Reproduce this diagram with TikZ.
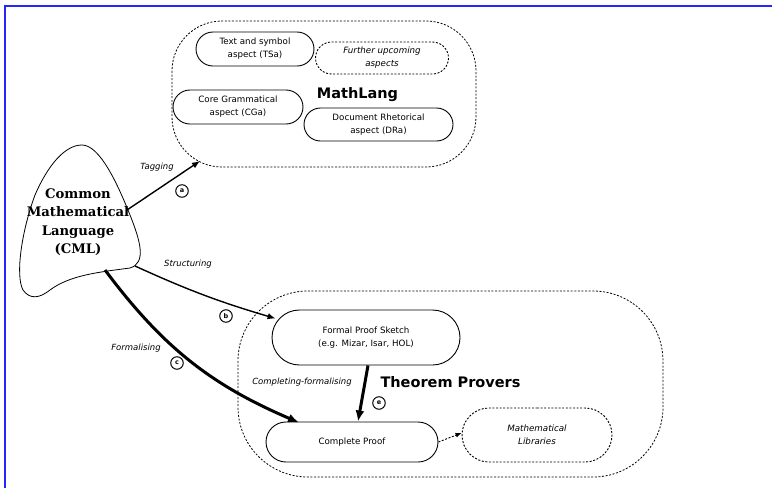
\documentclass[tikz,border=0pt]{standalone}
\usepackage{fontspec}
\setmainfont{DejaVu Sans}
\newfontfamily\cmlfont{DejaVu Serif}
\usetikzlibrary{shapes.misc,arrows.meta,calc}
\begin{document}
\begin{tikzpicture}[x=1pt,y=-1pt,
  every node/.style={font=\fontsize{8.7}{13}\selectfont, align=center},
  pill/.style={rounded rectangle, draw, line width=0.9pt, inner sep=0pt},
  dotpill/.style={rounded rectangle, draw, line width=0.9pt, inner sep=0pt,
    dash pattern=on 2pt off 1.6pt, font=\fontsize{8.7}{13}\selectfont\itshape},
  region/.style={draw, line width=0.8pt, dash pattern=on 2pt off 1.6pt},
  title/.style={font=\fontsize{14.5}{16}\selectfont\bfseries},
  edgelabel/.style={font=\fontsize{8.5}{10}\selectfont\itshape},
  tag/.style={circle, draw, line width=1pt, inner sep=0pt, minimum size=12.5pt,
    font=\fontsize{6.5}{6.5}\selectfont\bfseries},
  flow/.style={line width=1.4pt, -{Latex[length=8pt,width=6.5pt]}},
  heavy/.style={line width=3pt, -{Latex[length=11pt,width=9pt]}}
]
\useasboundingbox (0,0) rectangle (772,488);
% frame lines
\draw[blue!85, line width=1.3pt] (5,488) -- (5,6) -- (772,6);

% MathLang region
\draw[region, rounded corners=50pt] (172,21) rectangle (476,167);
\node[title] (mathlang) at (357.5,95) {MathLang};
\node[pill, minimum width=118pt, minimum height=34pt] (tsa) at (255,49)
  {Text and symbol\\aspect (TSa)};
\node[dotpill, minimum width=133pt, minimum height=32pt] (further) at (382,58)
  {Further upcoming\\aspects};
\node[pill, minimum width=130pt, minimum height=34pt] (cga) at (238,107)
  {Core Grammatical\\aspect (CGa)};
\node[pill, minimum width=149pt, minimum height=33pt] (dra) at (378.5,124.5)
  {Document Rhetorical\\aspect (DRa)};

% Theorem provers region
\draw[region, rounded corners=70pt] (238,291) rectangle (663,477);
\node[title] (tp) at (450.5,382) {Theorem Provers};
\node[pill, minimum width=188pt, minimum height=55pt] (fps) at (366,337.5)
  {Formal Proof Sketch\\(e.g. Mizar, Isar, HOL)};
\node[pill, minimum width=172pt, minimum height=40pt] (cp) at (352,442)
  {Complete Proof};
\node[dotpill, minimum width=150pt, minimum height=54pt] (ml) at (537,435)
  {Mathematical\\Libraries};

% Common Mathematical Language blob
\draw[line width=0.8pt] (82,145) .. controls (100,145) and (118,185) .. (130,215)
  .. controls (140,240) and (147,263) .. (130,268)
  .. controls (100,272) and (70,275) .. (50,290)
  .. controls (40,298) and (30,300) .. (23,290)
  .. controls (15,275) and (22,230) .. (35,195)
  .. controls (48,165) and (65,145) .. (82,145);
\node[font=\fontsize{13.2}{18.5}\selectfont\cmlfont\bfseries] (cml) at (78,222)
  {Common\\Mathematical\\Language\\(CML)};
\coordinate (cmlTag) at (127,210);
\coordinate (cmlStruct) at (135,266);
\coordinate (cmlForm) at (105,270);
\coordinate (mlIn) at (200,161);
\coordinate (fpsIn) at ($(fps.west)+(4,-19)$);
\coordinate (cpIn) at ($(cp.north)+(-53,1)$);
\coordinate (fpsOut) at ($(fps.south)+(2,0)$);
\coordinate (cpTop) at ($(cp.north)+(6,0)$);

% connectors
\draw[flow] (cmlTag) -- (mlIn);
\node[edgelabel] (ltag) at (157,167) {Tagging};
\node[tag] (ta) at (182,191) {a};

\draw[flow] (cmlStruct) to[bend right=4] (fpsIn);
\node[edgelabel] (lstruct) at (188,264) {Structuring};
\node[tag] (tb) at (226,316) {b};

\draw[heavy] (cmlForm) to[bend right=15] (cpIn);
\node[edgelabel] (lform) at (136,348) {Formalising};
\node[tag] (tc) at (177,363) {c};

\draw[heavy] (fpsOut) -- (cpTop);
\node[edgelabel] (lcomp) at (302,382) {Completing-formalising};
\node[tag] (te) at (379,403) {e};

\draw[line width=0.9pt, dash pattern=on 2pt off 1.6pt, -{Latex[length=6pt,width=5pt]}]
  (cp.east) -- (ml.west |- 0,433);
\end{tikzpicture}
\end{document}
